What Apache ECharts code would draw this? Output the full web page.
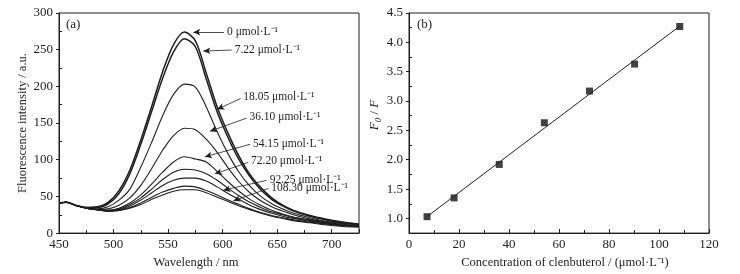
<!DOCTYPE html>
<html>
<head>
<meta charset="utf-8">
<script src="https://cdn.jsdelivr.net/npm/echarts@6/dist/echarts.min.js"></script>
<style>
  html, body { margin: 0; padding: 0; background: #fff; }
  #chart { width: 740px; height: 274px; }
</style>
</head>
<body>
<div id="chart"></div>
<script>
// (a) emission spectra
var wavelengths = [450, 457, 465, 475, 485, 495, 505, 515, 525, 535, 545, 555, 565, 575, 585, 595, 605, 615, 625, 635, 645, 655, 665, 680, 695, 710, 725];
var spec0     = [41, 42, 38, 35, 36, 42, 58, 86, 127, 173, 220, 257, 274, 262, 218, 172, 136, 105, 80, 62, 48, 38, 31, 24, 19, 15, 12];
var spec722   = [41, 42, 38, 35, 35, 40, 54, 81, 121, 166, 211, 247, 265, 254, 210, 165, 130, 100, 77, 59, 46, 37, 30, 23, 18, 14, 12];
var spec1805  = [41, 42, 38, 35, 33, 36, 45, 60, 90, 124, 160, 189, 203, 199, 172, 138, 108, 83, 64, 50, 40, 33, 27, 21, 16, 13, 11];
var spec3610  = [41, 42, 38, 34, 32, 33, 38, 48, 65, 88, 113, 133, 143, 141, 128, 110, 89, 70, 55, 44, 36, 30, 25, 19, 15, 12, 10];
var spec5415  = [41, 42, 38, 34, 32, 31, 34, 41, 52, 67, 83, 97, 104, 101, 97, 84, 70, 57, 46, 38, 31, 26, 22, 18, 14, 11, 10];
var spec7220  = [41, 42, 38, 34, 32, 31, 33, 39, 48, 60, 73, 83, 87, 86, 81, 72, 61, 51, 42, 35, 29, 25, 21, 17, 13, 11, 9];
var spec9225  = [41, 42, 38, 34, 32, 30, 32, 37, 45, 55, 65, 72, 75, 75, 71, 63, 54, 46, 38, 32, 27, 23, 20, 16, 13, 10, 9];
var spec10830 = [41, 42, 38, 34, 32, 30, 31, 35, 41, 49, 56, 61, 64, 63, 58, 52, 45, 39, 33, 28, 24, 21, 18, 15, 12, 10, 9];
var specLowest = [41, 42, 38, 34, 32, 30, 31, 34, 39, 46, 52, 57, 59, 59, 55, 49, 43, 37, 32, 27, 23, 20, 17, 14, 11, 9, 8];

var curveLabels = ['0 μmol·L⁻¹', '7.22 μmol·L⁻¹', '18.05 μmol·L⁻¹', '36.10 μmol·L⁻¹',
                   '54.15 μmol·L⁻¹', '72.20 μmol·L⁻¹', '92.25 μmol·L⁻¹', '108.30 μmol·L⁻¹'];
// arrow start (next to text) and arrow tip, in data units of panel (a)
var labelAnchors = [[601.3, 273.9], [608.3, 249.5], [616.5, 183.5], [622, 156.7], [625.1, 121], [623.5, 96.4], [640.4, 71.9], [641.9, 60.7]];
var arrowTips = [[573.1, 273.9], [582.3, 248.2], [595.1, 168.7], [588.4, 138.9], [583.8, 104], [593, 80.8], [600.6, 58.5], [609.8, 44.2]];

// (b) Stern-Volmer plot
var concentrations = [7.22, 18.05, 36.10, 54.15, 72.20, 90.25, 108.30];
var ratioF0F = [1.03, 1.35, 1.92, 2.63, 3.17, 3.63, 4.27];
var rightYTicks = [1.0, 1.5, 2.0, 2.5, 3.0, 3.5, 4.0, 4.5];
var rightYMinor = [1.25, 1.75, 2.25, 2.75, 3.25, 3.75, 4.25];
var leftYMinor = [25, 75, 125, 175, 225, 275];

var ink = '#1e1e1e';
var serif = 'Liberation Serif';

// least squares line through the (b) points
function fitLine(xs, ys) {
    var n = xs.length, mx = 0, my = 0;
    for (var i = 0; i < n; i++) { mx += xs[i]; my += ys[i]; }
    mx /= n; my /= n;
    var sxy = 0, sxx = 0;
    for (var j = 0; j < n; j++) {
        sxy += (xs[j] - mx) * (ys[j] - my);
        sxx += (xs[j] - mx) * (xs[j] - mx);
    }
    var b = sxy / sxx;
    return { a: my - b * mx, b: b };
}
var fit = fitLine(concentrations, ratioF0F);
var x0 = concentrations[0], x1 = concentrations[concentrations.length - 1];

var spectra = [spec0, spec722, spec1805, spec3610, spec5415, spec7220, spec9225, spec10830, specLowest];

var series = spectra.map(function (arr, k) {
    var s = {
        type: 'line',
        xAxisIndex: 0,
        yAxisIndex: 0,
        data: wavelengths.map(function (w, j) { return [w, arr[j]]; }),
        showSymbol: false,
        smooth: 0.3,
        silent: true,
        lineStyle: { color: ink, width: k < 2 ? 1.5 : 1.1 }
    };
    if (k === 0) {
        s.markLine = {
            silent: true,
            animation: false,
            symbol: ['none', 'arrow'],
            symbolSize: [5, 7],
            lineStyle: { color: ink, width: 0.8, type: 'solid' },
            label: {
                show: true,
                position: 'start',
                distance: 3,
                color: ink,
                fontFamily: serif,
                fontSize: 11.5,
                formatter: function (p) { return p.name; }
            },
            data: curveLabels.map(function (t, i) {
                return [{ name: t, coord: labelAnchors[i] }, { coord: arrowTips[i] }];
            })
        };
    }
    return s;
});

series.push({
    type: 'line',
    xAxisIndex: 1,
    yAxisIndex: 2,
    data: [[x0, fit.a + fit.b * x0], [x1, fit.a + fit.b * x1]],
    showSymbol: false,
    silent: true,
    lineStyle: { color: ink, width: 1 }
});
series.push({
    type: 'scatter',
    xAxisIndex: 1,
    yAxisIndex: 2,
    data: concentrations.map(function (c, i) { return [c, ratioF0F[i]]; }),
    symbol: 'rect',
    symbolSize: 7,
    silent: true,
    itemStyle: { color: '#111' }
});

var axisCommon = {
    axisLine: { lineStyle: { color: ink, width: 1 } },
    splitLine: { show: false }
};

function merge(a, b) {
    var o = {};
    for (var k in a) o[k] = a[k];
    for (var m in b) o[m] = b[m];
    return o;
}

var option = {
    animation: false,
    textStyle: { fontFamily: serif, color: ink },
    grid: [
        { left: 59, top: 13, width: 300, height: 224, show: true, borderColor: ink, borderWidth: 1 },
        { left: 409, top: 13, width: 300, height: 224, show: true, borderColor: ink, borderWidth: 1 }
    ],
    xAxis: [
        merge(axisCommon, {
            type: 'value', gridIndex: 0, min: 450, max: 725, interval: 50,
            axisTick: { inside: true, length: 4, lineStyle: { color: ink } },
            minorTick: { show: true, splitNumber: 2, length: 3, lineStyle: { color: ink } },
            axisLabel: { color: ink, fontSize: 13, margin: 5, showMaxLabel: false },
            name: 'Wavelength / nm', nameLocation: 'middle', nameGap: 20,
            nameTextStyle: { color: ink, fontFamily: serif, fontSize: 12.5, padding: [0, 26, 0, 0] }
        }),
        merge(axisCommon, {
            type: 'value', gridIndex: 1, min: 0, max: 120, interval: 20,
            axisTick: { inside: true, length: 4, lineStyle: { color: ink } },
            minorTick: { show: true, splitNumber: 2, length: 3, lineStyle: { color: ink } },
            axisLabel: { color: ink, fontSize: 13, margin: 5 },
            name: 'Concentration of clenbuterol / (μmol·L⁻¹)', nameLocation: 'middle', nameGap: 20,
            nameTextStyle: { color: ink, fontFamily: serif, fontSize: 12.5, padding: [0, 0, 0, 12] }
        })
    ],
    yAxis: [
        merge(axisCommon, {
            type: 'value', gridIndex: 0, min: 0, max: 300, interval: 50,
            axisTick: { inside: false, length: 3, lineStyle: { color: ink } },
            axisLabel: { color: ink, fontSize: 13, margin: 6 },
            name: 'Fluorescence intensity / a.u.', nameLocation: 'middle', nameGap: 29,
            nameTextStyle: { color: ink, fontFamily: serif, fontSize: 12.5 }
        }),
        {
            type: 'value', gridIndex: 0, min: 0, max: 300, position: 'left',
            axisLine: { show: false },
            axisLabel: { show: false },
            splitLine: { show: false },
            axisTick: { inside: true, length: 3, customValues: leftYMinor, lineStyle: { color: ink } }
        },
        merge(axisCommon, {
            type: 'value', gridIndex: 1, min: 0.75, max: 4.5,
            axisTick: { inside: false, length: 3, customValues: rightYTicks, lineStyle: { color: ink } },
            axisLabel: {
                color: ink, fontSize: 13, margin: 6, customValues: rightYTicks,
                formatter: function (v) { return v.toFixed(1); }
            },
            name: '{i|F}{s|0}{n| / }{i|F}', nameLocation: 'middle', nameGap: 22,
            nameTextStyle: {
                color: ink, fontFamily: serif, fontSize: 13, padding: [0, 0, 0, 16],
                rich: {
                    i: { fontStyle: 'italic', fontFamily: serif, fontSize: 13, color: ink },
                    s: { fontStyle: 'italic', fontFamily: serif, fontSize: 9, color: ink, padding: [7, 0, 0, 0] },
                    n: { fontFamily: serif, fontSize: 13, color: ink }
                }
            }
        }),
        {
            type: 'value', gridIndex: 1, min: 0.75, max: 4.5, position: 'left',
            axisLine: { show: false },
            axisLabel: { show: false },
            splitLine: { show: false },
            axisTick: { inside: true, length: 3, customValues: rightYMinor, lineStyle: { color: ink } }
        }
    ],
    graphic: [
        { type: 'text', left: 66, top: 18, style: { text: '(a)', font: '13px "Liberation Serif"', fill: ink } },
        { type: 'text', left: 417, top: 18, style: { text: '(b)', font: '13px "Liberation Serif"', fill: ink } }
    ],
    series: series
};

var chart = echarts.init(document.getElementById('chart'), null, { renderer: 'canvas' });
chart.setOption(option);
</script>
</body>
</html>
